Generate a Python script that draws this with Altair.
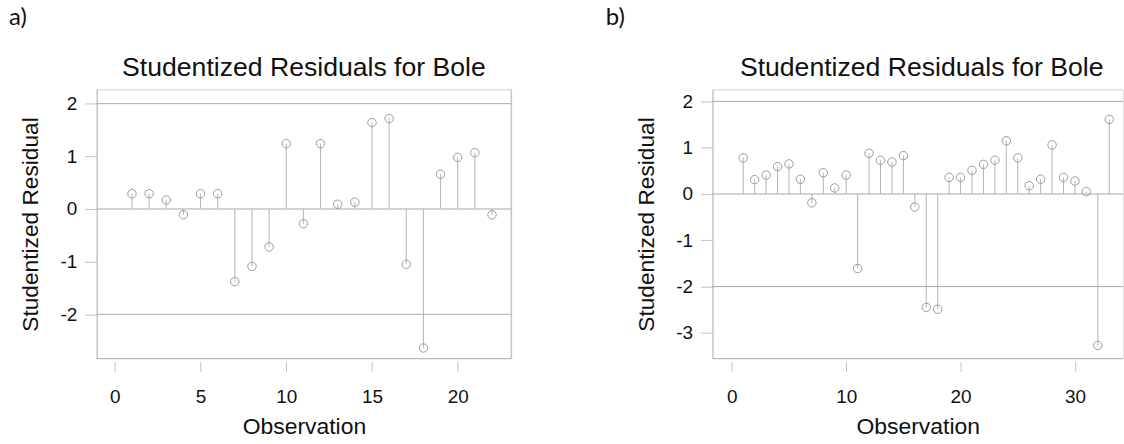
import altair as alt
import pandas as pd

# ---------------- data ----------------
obs_a = [1, 2, 3, 4, 5, 6, 7, 8, 9, 10, 11, 12, 13, 14, 15, 16, 17, 18, 19, 20, 21, 22]
res_a = [0.29, 0.29, 0.17, -0.11, 0.29, 0.29, -1.38, -1.09, -0.72, 1.24, -0.28,
         1.24, 0.09, 0.13, 1.64, 1.72, -1.05, -2.64, 0.66, 0.98, 1.07, -0.11]

obs_b = [1, 2, 3, 4, 5, 6, 7, 8, 9, 10, 11, 12, 13, 14, 15, 16, 17, 18, 19, 20,
         21, 22, 23, 24, 25, 26, 27, 28, 29, 30, 31, 32, 33]
res_b = [0.78, 0.31, 0.41, 0.59, 0.65, 0.32, -0.19, 0.46, 0.13, 0.41, -1.61,
         0.88, 0.73, 0.69, 0.83, -0.28, -2.45, -2.49, 0.36, 0.36, 0.51, 0.64,
         0.73, 1.15, 0.78, 0.18, 0.32, 1.06, 0.36, 0.28, 0.05, -3.27, 1.61]

ref_lines = [-2, 0, 2]
xticks_a = [0, 5, 10, 15, 20]
xticks_b = [0, 10, 20, 30]
yticks_a = [-2, -1, 0, 1, 2]
yticks_b = [-3, -2, -1, 0, 1, 2]
panel_labels = ["a)", "b)"]
title_text = "Studentized Residuals for Bole"
x_title = "Observation"
y_title = "Studentized Residual"

FONT = "Liberation Sans"
STEM = "#b4b4b4"
CIRC = "#9c9c9c"
REF = "#a8a8a8"
FRAME = "#b8b8b8"
FRAME_TOP = "#dedede"
TICK = "#c4c4c4"


def panel(obs, res, xdom, ydom, xticks, yticks, label, width, height,
          title_x, label_x, draw_right=True):
    df = pd.DataFrame({"obs": obs, "res": res})
    base = alt.Chart(df)
    xs = alt.Scale(domain=xdom, nice=False, zero=False)
    ys = alt.Scale(domain=ydom, nice=False, zero=False)
    xax = alt.Axis(values=xticks, offset=3, domain=False, grid=False,
                   tickSize=10, tickColor=TICK, labelFontSize=19, labelFont=FONT,
                   labelColor="#111", labelPadding=16, title=x_title,
                   titleFont=FONT, titleFontSize=23, titleFontWeight="normal",
                   titleColor="#111", titlePadding=9, labelFlush=False,
                   labelExpr="'' + datum.value")
    yax = alt.Axis(values=yticks, domain=True, domainColor=FRAME, grid=False,
                   tickSize=12, tickColor=TICK, labelFontSize=19, labelFont=FONT,
                   labelColor="#111", labelPadding=8, title=y_title,
                   titleFont=FONT, titleFontSize=22.8, titleFontWeight="normal",
                   titleColor="#111", titlePadding=17, labelFlush=False,
                   labelExpr="'' + datum.value")

    refs = alt.Chart(pd.DataFrame({"r": ref_lines})).mark_rule(
        color=REF, strokeWidth=1).encode(
        y=alt.Y("r:Q", scale=ys, axis=yax))
    top = alt.Chart(pd.DataFrame({"r": [ydom[1]]})).mark_rule(
        color=FRAME_TOP, strokeWidth=1).encode(y=alt.Y("r:Q", scale=ys))
    bottom = alt.Chart(pd.DataFrame({"r": [ydom[0]]})).mark_rule(
        color=FRAME, strokeWidth=1).encode(y=alt.Y("r:Q", scale=ys))
    stems = base.mark_rule(color=STEM, strokeWidth=1).encode(
        x=alt.X("obs:Q", scale=xs, axis=xax),
        y=alt.Y("res:Q", scale=ys),
        y2=alt.datum(0))
    pts = base.mark_point(shape="circle", filled=False, color=CIRC,
                          size=72, strokeWidth=1, opacity=1).encode(
        x=alt.X("obs:Q", scale=xs),
        y=alt.Y("res:Q", scale=ys))
    ttl = alt.Chart(pd.DataFrame({"t": [title_text]})).mark_text(
        font=FONT, fontSize=26.7, align="center", baseline="alphabetic",
        color="#111").encode(
        text="t:N", x=alt.value(title_x), y=alt.value(-14))
    lab = alt.Chart(pd.DataFrame({"t": [label]})).mark_text(
        font="Lato", fontSize=24, align="left", baseline="alphabetic",
        color="#111").encode(
        text="t:N", x=alt.value(label_x), y=alt.value(-65))
    layers = [refs, top, bottom]
    if draw_right:
        right = alt.Chart(pd.DataFrame({"r": [xdom[1]]})).mark_rule(
            color=FRAME, strokeWidth=1).encode(x=alt.X("r:Q", scale=xs))
        layers.append(right)
    layers += [stems, pts, ttl, lab]
    return alt.layer(*layers).properties(width=width, height=height)


pa = panel(obs_a, res_a, [-1.06, 23.12], [-2.84, 2.27], xticks_a, yticks_a,
           panel_labels[0], 416, 270, 208, -88)
pb = panel(obs_b, res_b, [-1.69, 34.2], [-3.553, 2.258], xticks_b, yticks_b,
           panel_labels[1], 412, 270, 210, -107, draw_right=False)

chart = alt.hconcat(pa, pb, spacing=93).properties(
    padding={"left": 8, "top": 4, "right": 0, "bottom": 0}
).configure_view(stroke=None).configure(background="white")

chart.save("out.html", embed_options={"renderer": "svg", "actions": False})
